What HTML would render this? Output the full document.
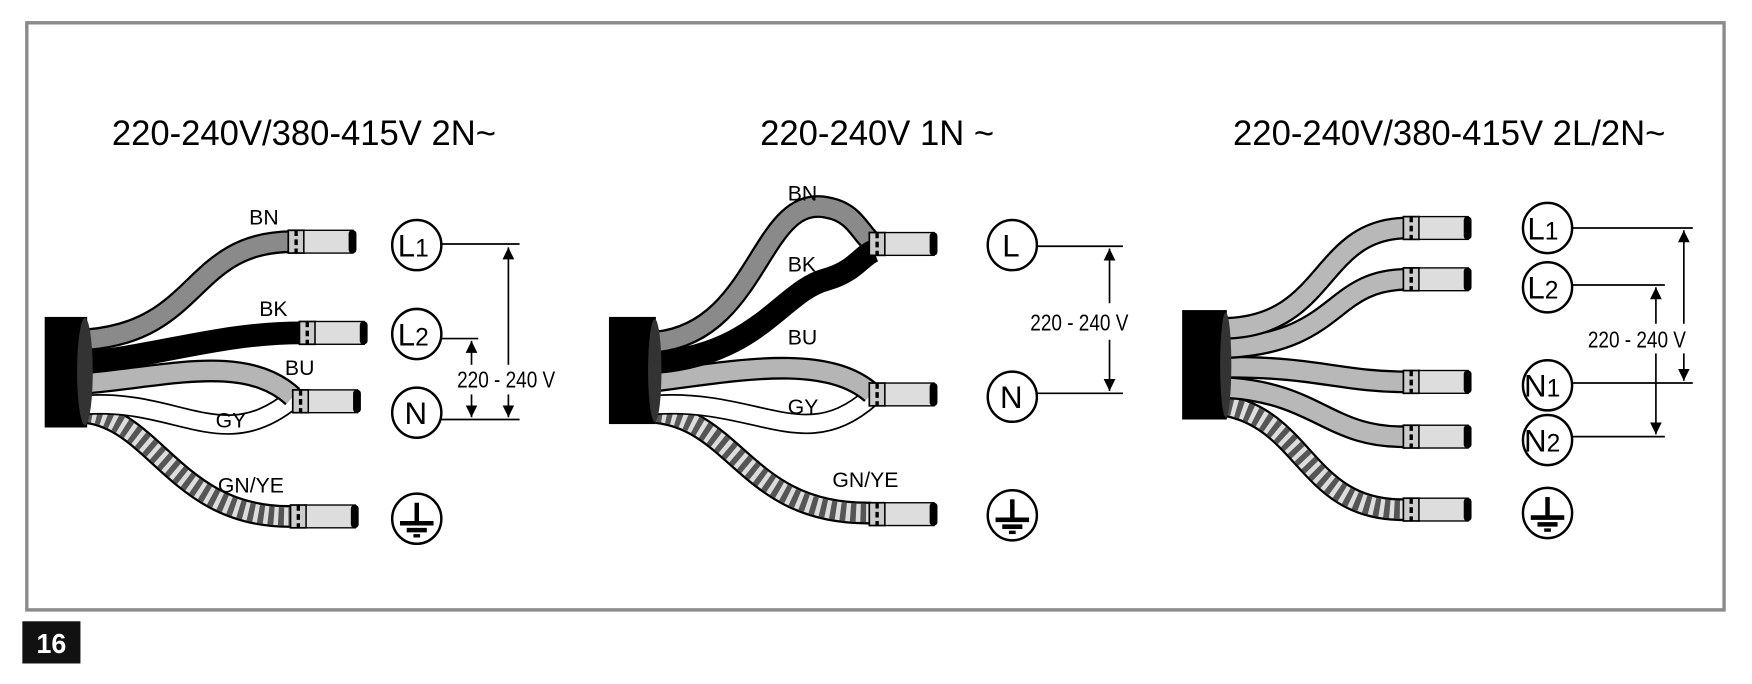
<!DOCTYPE html>
<html><head><meta charset="utf-8"><style>
html,body{margin:0;padding:0;background:#fff;}
svg{display:block;}
text{font-family:"Liberation Sans",sans-serif;}
</style></head><body>
<svg width="1752" height="684" viewBox="0 0 1568 600" preserveAspectRatio="none" xmlns="http://www.w3.org/2000/svg">
<defs>
<g id="term">
  <rect x="0" y="-10" width="14" height="20" fill="#ccc" stroke="#000" stroke-width="1.5"/>
  <line x1="7" y1="-10" x2="7" y2="10" stroke="#000" stroke-width="3" stroke-dasharray="5 3"/>
  <rect x="14" y="-10" width="44" height="20" fill="#ddd" stroke="#000" stroke-width="1.2"/>
  <rect x="54" y="-10" width="7" height="20" rx="3" fill="#000"/>
</g>
<g id="gnd">
  <circle r="22" fill="#fff" stroke="#000" stroke-width="2.2"/>
  <line x1="0" y1="-14" x2="0" y2="4" stroke="#000" stroke-width="4"/>
  <line x1="-15" y1="4" x2="15" y2="4" stroke="#000" stroke-width="4"/>
  <line x1="-9" y1="10" x2="9" y2="10" stroke="#000" stroke-width="4"/>
  <line x1="-3" y1="15" x2="3" y2="15" stroke="#000" stroke-width="3"/>
</g>
<marker id="ar" viewBox="0 0 10 10" refX="10" refY="5" markerWidth="7" markerHeight="9" orient="auto-start-reverse"><path d="M0,0 L10,5 L0,10 z" fill="#000"/></marker>
</defs>
<rect x="0" y="0" width="1568" height="600" fill="#fff"/>
<rect x="24" y="20" width="1519" height="515" fill="none" stroke="#8a8a8a" stroke-width="3"/>
<rect x="20" y="545" width="52" height="37" fill="#111"/>
<text x="46" y="573" font-size="24" font-weight="bold" fill="#fff" text-anchor="middle">16</text>

<text x="272" y="127" font-size="31" text-anchor="middle">220-240V/380-415V 2N~</text>
<text x="785" y="127" font-size="31" text-anchor="middle">220-240V 1N ~</text>
<text x="1297" y="127" font-size="31" text-anchor="middle">220-240V/380-415V 2L/2N~</text>

<!-- Diagram 1 -->
<g fill="none" stroke-linecap="butt">
  <path d="M78,362 C140,370 160,455 262,453" stroke="#000" stroke-width="20"/>
  <path d="M78,362 C140,370 160,455 262,453" stroke="#ddd" stroke-width="16"/>
  <path d="M78,362 C140,370 160,455 262,453" stroke="#555" stroke-width="16" stroke-dasharray="5 4"/>
  <path d="M78,355 C160,350 200,400 262,350" stroke="#000" stroke-width="18"/>
  <path d="M78,355 C160,350 200,400 262,350" stroke="#fff" stroke-width="15"/>
  <path d="M78,336 C150,330 220,310 262,348" stroke="#000" stroke-width="20"/>
  <path d="M78,336 C150,330 220,310 262,348" stroke="#b5b5b5" stroke-width="16"/>
  <path d="M78,298 C180,290 170,212 262,212" stroke="#000" stroke-width="20"/>
  <path d="M78,298 C180,290 170,212 262,212" stroke="#8a8a8a" stroke-width="16"/>
  <path d="M78,318 C150,310 200,292 270,292" stroke="#000" stroke-width="20"/>
</g>
<rect x="40" y="278" width="38" height="97" fill="#000"/>
<ellipse cx="76" cy="326" rx="7" ry="47" fill="#333"/>
<use href="#term" x="258" y="212"/>
<use href="#term" x="268" y="292"/>
<use href="#term" x="262" y="352"/>
<use href="#term" x="260" y="453"/>
<g font-size="19" fill="#000">
<text x="223" y="197">BN</text><text x="232" y="277">BK</text><text x="255" y="329">BU</text><text x="193" y="375">GY</text><text x="195" y="432">GN/YE</text>
</g>
<g fill="#fff" stroke="#000" stroke-width="2.2">
<circle cx="373" cy="215" r="22"/><circle cx="373" cy="293" r="22"/><circle cx="373" cy="362" r="22"/>
</g>
<g font-size="28" fill="#000"><text x="356" y="225">L<tspan font-size="22">1</tspan></text><text x="356" y="303">L<tspan font-size="22">2</tspan></text><text x="362" y="372">N</text></g>
<use href="#gnd" x="373" y="455"/>
<g stroke="#000" stroke-width="1.5" fill="none">
<line x1="395" y1="214" x2="465" y2="214"/><line x1="395" y1="297" x2="428" y2="297"/><line x1="395" y1="368" x2="465" y2="368"/>
<line x1="455" y1="217" x2="455" y2="320" marker-start="url(#ar)"/><line x1="455" y1="346" x2="455" y2="366" marker-end="url(#ar)"/>
<line x1="422" y1="299" x2="422" y2="320" marker-start="url(#ar)"/><line x1="422" y1="346" x2="422" y2="366" marker-end="url(#ar)"/>
</g>
<text x="453" y="340" font-size="20" text-anchor="middle" transform="translate(453 0) scale(0.85 1) translate(-453 0)">220 - 240 V</text>

<!-- Diagram 2 -->
<g fill="none">
  <path d="M588,362 C660,370 670,452 780,450" stroke="#000" stroke-width="20"/>
  <path d="M588,362 C660,370 670,452 780,450" stroke="#ddd" stroke-width="16"/>
  <path d="M588,362 C660,370 670,452 780,450" stroke="#555" stroke-width="16" stroke-dasharray="5 4"/>
  <path d="M588,355 C680,350 720,400 780,348" stroke="#000" stroke-width="18"/>
  <path d="M588,355 C680,350 720,400 780,348" stroke="#fff" stroke-width="15"/>
  <path d="M588,334 C660,325 740,310 780,345" stroke="#000" stroke-width="20"/>
  <path d="M588,334 C660,325 740,310 780,345" stroke="#b5b5b5" stroke-width="16"/>
  <path d="M588,300 C680,290 680,170 740,182 C765,186 770,205 780,212" stroke="#000" stroke-width="20"/>
  <path d="M588,300 C680,290 680,170 740,182 C765,186 770,205 780,212" stroke="#8a8a8a" stroke-width="16"/>
  <path d="M588,318 C680,310 700,255 740,245 C765,238 770,225 782,220" stroke="#000" stroke-width="20"/>
</g>
<rect x="545" y="278" width="42" height="94" fill="#000"/>
<ellipse cx="586" cy="325" rx="6" ry="45" fill="#333"/>
<use href="#term" x="778" y="214"/>
<use href="#term" x="778" y="346"/>
<use href="#term" x="778" y="451"/>
<g font-size="19" fill="#000">
<text x="705" y="176">BN</text><text x="705" y="238">BK</text><text x="705" y="302">BU</text><text x="705" y="363">GY</text><text x="745" y="427">GN/YE</text>
</g>
<g fill="#fff" stroke="#000" stroke-width="2.2"><circle cx="906" cy="215" r="22"/><circle cx="906" cy="348" r="22"/></g>
<g font-size="28" fill="#000"><text x="897" y="225">L</text><text x="895" y="358">N</text></g>
<use href="#gnd" x="906" y="452"/>
<g stroke="#000" stroke-width="1.5" fill="none">
<line x1="928" y1="216" x2="1005" y2="216"/><line x1="928" y1="345" x2="1005" y2="345"/>
<line x1="993" y1="218" x2="993" y2="266" marker-start="url(#ar)"/><line x1="993" y1="298" x2="993" y2="343" marker-end="url(#ar)"/>
</g>
<text x="966" y="290" font-size="20" text-anchor="middle" transform="translate(966 0) scale(0.85 1) translate(-966 0)">220 - 240 V</text>

<!-- Diagram 3 -->
<g fill="none">
  <path d="M1098,356 C1170,370 1170,450 1260,447" stroke="#000" stroke-width="20"/>
  <path d="M1098,356 C1170,370 1170,450 1260,447" stroke="#ddd" stroke-width="16"/>
  <path d="M1098,356 C1170,370 1170,450 1260,447" stroke="#555" stroke-width="16" stroke-dasharray="5 4"/>
  <path d="M1098,340 C1180,345 1190,385 1260,383" stroke="#000" stroke-width="20"/>
  <path d="M1098,340 C1180,345 1190,385 1260,383" stroke="#b8b8b8" stroke-width="16"/>
  <path d="M1098,322 C1180,322 1200,335 1260,335" stroke="#000" stroke-width="20"/>
  <path d="M1098,322 C1180,322 1200,335 1260,335" stroke="#b8b8b8" stroke-width="16"/>
  <path d="M1098,305 C1200,300 1190,245 1260,245" stroke="#000" stroke-width="20"/>
  <path d="M1098,305 C1200,300 1190,245 1260,245" stroke="#b8b8b8" stroke-width="16"/>
  <path d="M1098,288 C1190,285 1180,200 1260,200" stroke="#000" stroke-width="20"/>
  <path d="M1098,288 C1190,285 1180,200 1260,200" stroke="#b8b8b8" stroke-width="16"/>
</g>
<rect x="1058" y="272" width="40" height="96" fill="#000"/>
<ellipse cx="1097" cy="320" rx="5" ry="46" fill="#333"/>
<use href="#term" x="1256" y="200"/>
<use href="#term" x="1256" y="245"/>
<use href="#term" x="1256" y="335"/>
<use href="#term" x="1256" y="383"/>
<use href="#term" x="1256" y="447"/>
<g fill="#fff" stroke="#000" stroke-width="2.2">
<circle cx="1385" cy="200" r="22"/><circle cx="1385" cy="252" r="22"/><circle cx="1385" cy="338" r="22"/><circle cx="1385" cy="386" r="22"/>
</g>
<g font-size="28" fill="#000"><text x="1367" y="210">L<tspan font-size="22">1</tspan></text><text x="1367" y="262">L<tspan font-size="22">2</tspan></text><text x="1364" y="348">N<tspan font-size="22">1</tspan></text><text x="1364" y="396">N<tspan font-size="22">2</tspan></text></g>
<use href="#gnd" x="1385" y="450"/>
<g stroke="#000" stroke-width="1.5" fill="none">
<line x1="1407" y1="200" x2="1515" y2="200"/><line x1="1407" y1="250" x2="1490" y2="250"/><line x1="1407" y1="336" x2="1515" y2="336"/><line x1="1407" y1="383" x2="1490" y2="383"/>
<line x1="1507" y1="202" x2="1507" y2="284" marker-start="url(#ar)"/><line x1="1507" y1="310" x2="1507" y2="334" marker-end="url(#ar)"/>
<line x1="1482" y1="252" x2="1482" y2="284" marker-start="url(#ar)"/><line x1="1482" y1="310" x2="1482" y2="381" marker-end="url(#ar)"/>
</g>
<rect x="1410" y="285" width="112" height="24" fill="#fff"/>
<text x="1465" y="305" font-size="20" text-anchor="middle" transform="translate(1465 0) scale(0.85 1) translate(-1465 0)">220 - 240 V</text>
</svg>
</body></html>
